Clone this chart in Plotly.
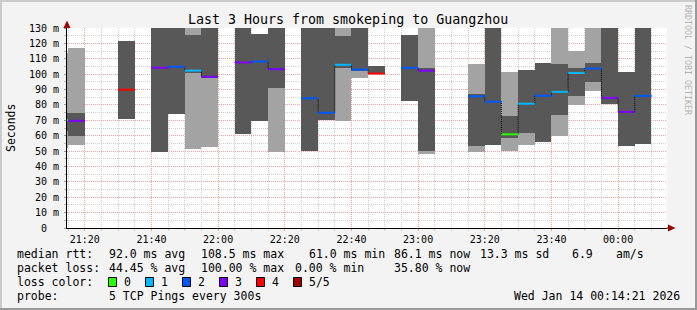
import plotly.graph_objects as go
from datetime import datetime, timedelta

# ---------------- data ----------------
slot_end = ["21:15", "21:20", "21:35", "21:45", "21:50", "21:55", "22:00", "22:10",
            "22:15", "22:20", "22:30", "22:35", "22:40", "22:45", "22:50", "23:00",
            "23:05", "23:20", "23:25", "23:30", "23:35", "23:40", "23:45", "23:50",
            "23:55", "00:00", "00:05", "00:10"]
light_lo = [52.3, 54.0, None, None, None, 51.4, 52.7, None, None, 49.6, None, None,
            69.6, 97.8, None, None, 47.9, 49.6, None, 50.2, 54.1, None, 59.9, 80.0,
            89.2, None, None, None]
light_hi = [113.8, 116.8, None, None, None, 140, 140, None, None, 140, None, None,
            140, 140, None, None, 140, 106.6, None, 101.2, 102.7, None, 140, 115.2,
            140, None, None, None]
dark_lo = [63.3, 60.0, 70.9, 49.6, 73.9, 100.6, 97.7, 61.3, 69.6, 91.2, 50.1, 70.4,
           104.2, 102.0, 100.1, 82.8, 50.1, 53.5, 54.1, 58.7, 61.5, 56.0, 73.6, 85.8,
           95.0, 80.8, 53.5, 54.8]
dark_hi = [75.0, 74.8, 121.8, 140, 140, 125.5, 140, 140, 126.1, 140, 140, 140,
           125.0, 140, 105.4, 125.5, 103.9, 87.0, 140, 73.0, 102.7, 107.5, 106.6, 104.2,
           107.5, 140, 101.4, 140]
median = [70.2, 69.7, 89.9, 104.2, 104.8, 102.3, 98.3, 107.6, 108.2, 103.2, 84.3, 74.9,
          106.1, 103.0, 100.4, 104.1, 102.3, 85.6, 82.1, 60.9, 80.8, 86.0, 88.5, 100.8,
          103.7, 84.6, 75.5, 85.9]
loss = [0, 3, 4, 3, 2, 1, 3, 3, 2, 3, 2, 2, 1, 2, 4, 2, 3, 2, 2, 0, 1, 2, 1, 1, 2, 3, 3, 2]

loss_labels = ["0", "1", "2", "3", "4", "5/5"]
loss_colors = ["#26ff00", "#00b8ff", "#0059ff", "#7e00ff", "#ff0000", "#a10000"]

y_ticks = [0, 10, 20, 30, 40, 50, 60, 70, 80, 90, 100, 110, 120, 130]
y_ticktext = ["0\u00a0\u00a0"] + [f"{v} m" for v in y_ticks[1:]]

rtt_stats = ["median rtt:", "92.0 ms avg", "108.5 ms max", "61.0 ms min",
             "86.1 ms now", "13.3 ms sd", "6.9", "am/s"]
loss_stats = ["packet loss:", "44.45 % avg", "100.00 % max", "0.00 % min", "35.80 % now"]
probe_text = ["probe:", "5 TCP Pings every 300s"]
stamp = "Wed Jan 14 00:14:21 2026"
title = "Last 3 Hours from smokeping to Guangzhou"

# ---------------- helpers ----------------
STEP = timedelta(minutes=5)
day0 = datetime(2026, 1, 13)


def to_dt(hm):
    h, m = map(int, hm.split(":"))
    d = day0 if h >= 12 else day0 + timedelta(days=1)
    return d + timedelta(hours=h, minutes=m)


ends = [to_dt(s) for s in slot_end]
starts = [e - STEP for e in ends]
mids = [s + STEP / 2 for s in starts]

W, H = 697, 310
L, R, T, B = 67, 667, 28, 228


def px(x):
    return (x - L) / (R - L)


def py(y):
    return (B - y) / (B - T)


MONO = "DejaVu Sans Mono"

fig = go.Figure()

# smoke: light (outer) then dark (inner)
lx = [m for m, lo in zip(mids, light_lo) if lo is not None]
ly = [hi - lo for lo, hi in zip(light_lo, light_hi) if lo is not None]
lb = [lo for lo in light_lo if lo is not None]
fig.add_trace(go.Bar(x=lx, y=ly, base=lb, width=300000, marker=dict(color="#a3a3a3", line=dict(width=0)),
                     hoverinfo="skip", showlegend=False))
fig.add_trace(go.Bar(x=mids, y=[hi - lo for lo, hi in zip(dark_lo, dark_hi)], base=dark_lo, width=300000,
                     marker=dict(color="#585858", line=dict(width=0)), hoverinfo="skip", showlegend=False))

# dotted connectors (step line through medians of contiguous slots)
cx, cy = [], []
for i in range(len(ends)):
    if i > 0 and starts[i] != ends[i - 1]:
        cx += [ends[i - 1], None]
        cy += [median[i - 1], None]
    cx.append(starts[i])
    cy.append(median[i])
cx.append(ends[-1])
cy.append(median[-1])
fig.add_trace(go.Scatter(x=cx, y=cy, mode="lines", line=dict(color="#000000", width=1, dash="1px,1px", shape="hv"),
                         hoverinfo="skip", showlegend=False, connectgaps=False))

# coloured median segments by loss
for k, col in enumerate(loss_colors):
    sx, sy = [], []
    for i in range(len(ends)):
        if loss[i] == k:
            sx += [starts[i], ends[i], None]
            sy += [median[i], median[i], None]
    if sx:
        fig.add_trace(go.Scatter(x=sx, y=sy, mode="lines", line=dict(color=col, width=2),
                                 hoverinfo="skip", showlegend=False))

x0 = datetime(2026, 1, 13, 21, 14, 40)
x1 = x0 + timedelta(minutes=180)

major_grid = "#f2a0a0"
minor_grid = "#cfcfcf"

fig.update_layout(
    width=W, height=H,
    margin=dict(l=L, r=W - R, t=T, b=H - B, pad=0),
    paper_bgcolor="#f3f3f3", plot_bgcolor="#ffffff",
    barmode="overlay", bargap=0, showlegend=False,
    font=dict(family=MONO, size=10, color="#000000"),
    xaxis=dict(
        type="date", range=[x0, x1], tick0=datetime(2026, 1, 13, 21, 20), dtick=1200000,
        tickformat="%H:%M", showgrid=True, gridcolor=major_grid, griddash="1px,1px", gridwidth=1,
        ticks="outside", ticklen=2, tickcolor=major_grid,
        minor=dict(dtick=300000, showgrid=True, gridcolor=minor_grid, griddash="1px,1px",
                   ticks="outside", ticklen=2, tickcolor=minor_grid),
        showline=True, linecolor="#000000", linewidth=1, zeroline=False,
        tickfont=dict(family=MONO, size=10, color="#000000"), fixedrange=True,
    ),
    yaxis=dict(
        range=[0, 130], tickvals=y_ticks, ticktext=y_ticktext, showgrid=True,
        gridcolor=major_grid, griddash="1px,1px", gridwidth=1,
        ticks="outside", ticklen=2, tickcolor="#999999",
        minor=dict(dtick=5, showgrid=True, gridcolor=minor_grid, griddash="1px,1px",
                   ticks="outside", ticklen=2, tickcolor="#bbbbbb"),
        showline=True, linecolor="#000000", linewidth=1, zeroline=False,
        tickfont=dict(family=MONO, size=10, color="#000000"), fixedrange=True,
        ticklabelstandoff=3,
    ),
)

shapes = []
annotations = []

# frame shading
shapes += [
    dict(type="line", xref="paper", yref="paper", x0=px(0), x1=px(W), y0=py(1), y1=py(1),
         line=dict(color="#cbcbcb", width=2)),
    dict(type="line", xref="paper", yref="paper", x0=px(1), x1=px(1), y0=py(0), y1=py(H),
         line=dict(color="#cbcbcb", width=2)),
    dict(type="line", xref="paper", yref="paper", x0=px(0), x1=px(W), y0=py(H - 1), y1=py(H - 1),
         line=dict(color="#999999", width=2)),
    dict(type="line", xref="paper", yref="paper", x0=px(W - 1), x1=px(W - 1), y0=py(0), y1=py(H),
         line=dict(color="#999999", width=2)),
]

# axis extensions and arrows
shapes += [
    dict(type="line", xref="paper", yref="paper", x0=px(L), x1=px(L), y0=py(T), y1=py(24),
         line=dict(color="#000000", width=1)),
    dict(type="path", xref="paper", yref="paper",
         path=f"M {px(L-3.5)} {py(28)} L {px(L+3.5)} {py(28)} L {px(L)} {py(20.5)} Z",
         fillcolor="#a00000", line=dict(width=0)),
    dict(type="line", xref="paper", yref="paper", x0=px(R), x1=px(670), y0=py(B), y1=py(B),
         line=dict(color="#000000", width=1)),
    dict(type="path", xref="paper", yref="paper",
         path=f"M {px(668)} {py(B-3.5)} L {px(668)} {py(B+3.5)} L {px(675.5)} {py(B)} Z",
         fillcolor="#a00000", line=dict(width=0)),
]

# title, y label, watermark
annotations += [
    dict(text=title, x=px(348), y=py(19), xref="paper", yref="paper", showarrow=False,
         xanchor="center", yanchor="middle", font=dict(family=MONO, size=13.3, color="#000000")),
    dict(text="Seconds", x=px(11), y=py(128), xref="paper", yref="paper", showarrow=False,
         textangle=-90, xanchor="center", yanchor="middle", font=dict(family=MONO, size=11.5, color="#000000")),
    dict(text="RRDTOOL / TOBI OETIKER", x=px(688), y=py(60), xref="paper", yref="paper", showarrow=False,
         textangle=90, xanchor="center", yanchor="middle", font=dict(family=MONO, size=8.3, color="#b4b4b4")),
]

LEG = 11.5
rtt_x = [16, 108, 200, 308, 393, 479, 571, 615]
loss_x = [16, 108, 200, 294, 393]
for txt, xx in zip(rtt_stats, rtt_x):
    annotations.append(dict(text=txt, x=px(xx), y=py(254), xref="paper", yref="paper", showarrow=False,
                            xanchor="left", yanchor="middle", borderpad=0,
                            font=dict(family=MONO, size=LEG, color="#000000")))
for txt, xx in zip(loss_stats, loss_x):
    annotations.append(dict(text=txt, x=px(xx), y=py(268), xref="paper", yref="paper", showarrow=False,
                            xanchor="left", yanchor="middle", borderpad=0,
                            font=dict(family=MONO, size=LEG, color="#000000")))
annotations.append(dict(text="loss color:", x=px(16), y=py(282), xref="paper", yref="paper", showarrow=False,
                        xanchor="left", yanchor="middle", borderpad=0,
                        font=dict(family=MONO, size=LEG, color="#000000")))
box_x = [108, 145, 182, 219, 256, 293]
for lab, col, bx in zip(loss_labels, loss_colors, box_x):
    shapes.append(dict(type="rect", xref="paper", yref="paper", x0=px(bx + 0.5), x1=px(bx + 8.5),
                       y0=py(277.5), y1=py(286.5), fillcolor=col, line=dict(color="#000000", width=1)))
    annotations.append(dict(text=lab, x=px(bx + 15), y=py(282), xref="paper", yref="paper", showarrow=False,
                            xanchor="left", yanchor="middle", borderpad=0,
                            font=dict(family=MONO, size=LEG, color="#000000")))
for txt, xx in zip(probe_text, [16, 108]):
    annotations.append(dict(text=txt, x=px(xx), y=py(296), xref="paper", yref="paper", showarrow=False,
                            xanchor="left", yanchor="middle", borderpad=0,
                            font=dict(family=MONO, size=LEG, color="#000000")))
annotations.append(dict(text=stamp, x=px(681), y=py(296), xref="paper", yref="paper", showarrow=False,
                        xanchor="right", yanchor="middle", borderpad=0,
                        font=dict(family=MONO, size=LEG, color="#000000")))

fig.update_layout(shapes=shapes, annotations=annotations)
fig.write_html("out.html")
